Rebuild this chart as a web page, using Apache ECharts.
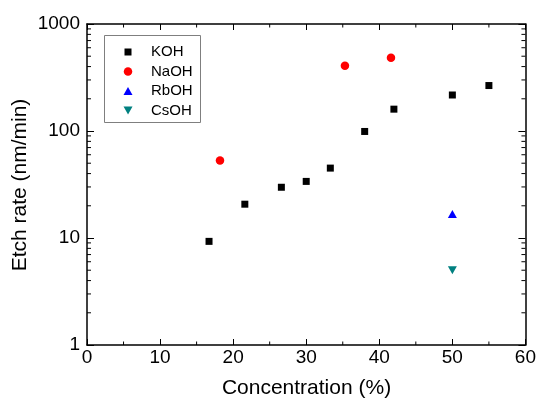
<!DOCTYPE html>
<html>
<head>
<meta charset="utf-8">
<script src="https://cdn.jsdelivr.net/npm/echarts@6/dist/echarts.min.js"></script>
<style>html,body{margin:0;padding:0;background:#fff}#c{width:539px;height:399px}</style>
</head>
<body>
<div id="c"></div>
<script>
// ---- data ----
const kohX = [16.7, 21.6, 26.6, 30.0, 33.3, 38.0, 42.0, 50.0, 55.0];
const kohY = [9.3, 20.7, 29.8, 33.8, 45, 99, 160, 217, 266];
const naohX = [18.2, 35.3, 41.6];
const naohY = [53, 408, 484];
const rbohX = [50.0];
const rbohY = [16.8];
const csohX = [50.0];
const csohY = [5.0];
const seriesNames = ['KOH', 'NaOH', 'RbOH', 'CsOH'];
const yTicks = [1, 10, 100, 1000];
const yMinorTicks = [2, 3, 4, 5, 6, 7, 8, 9, 20, 30, 40, 50, 60, 70, 80, 90, 200, 300, 400, 500, 600, 700, 800, 900];
const xMinorTicks = [5, 15, 25, 35, 45, 55];
const X_MIN = 0, X_MAX = 60, Y_MIN = 1, Y_MAX = 1000;
const xTitle = 'Concentration (%)';
const yTitle = 'Etch rate (nm/min)';

const pairs = (xs, ys) => xs.map((x, i) => [x, ys[i]]);
const FONT = '"Liberation Sans", Arial, sans-serif';
const COLORS = {KOH: '#000000', NaOH: '#ff0000', RbOH: '#0000ff', CsOH: '#008080'};

// legend drawn as graphic (box, symbol, label)
const legRowY = [17, 36.5, 56, 75.5];
const legendSymbols = [
  {type: 'rect', shape: {x: 20.5, y: legRowY[0] - 3.5, width: 7, height: 7}, style: {fill: COLORS.KOH}},
  {type: 'circle', shape: {cx: 24, cy: legRowY[1], r: 4.25}, style: {fill: COLORS.NaOH}},
  {type: 'polygon', shape: {points: [[19.5, legRowY[2] + 4], [28.5, legRowY[2] + 4], [24, legRowY[2] - 4]]}, style: {fill: COLORS.RbOH}},
  {type: 'polygon', shape: {points: [[19.5, legRowY[3] - 4], [28.5, legRowY[3] - 4], [24, legRowY[3] + 4]]}, style: {fill: COLORS.CsOH}}
];
const legendTexts = seriesNames.map((n, i) => ({
  type: 'text', x: 47, y: legRowY[i],
  style: {text: n, font: '15px ' + FONT, fill: '#000', verticalAlign: 'middle', align: 'left'}
}));

const chart = echarts.init(document.getElementById('c'));
const mkLine = () => ({show: true, onZero: false, lineStyle: {color: '#000', width: 1.5}});
const mkTick = (len) => ({show: true, inside: true, length: len, lineStyle: {color: '#000', width: 1}});
const tickLine = (x1, y1, x2, y2) => ({type: 'line', shape: {x1, y1, x2, y2}, style: {stroke: '#000', lineWidth: 1}});
const option = {
  animation: false,
  grid: {left: 87, right: 13, top: 24, bottom: 54},
  graphic: [
    {type: 'text', x: 306.5, y: 388, silent: true,
     style: {text: xTitle, font: '21px ' + FONT, fill: '#000', align: 'center', verticalAlign: 'middle'}},
    {type: 'text', x: 20, y: 185, rotation: Math.PI / 2, silent: true,
     style: {text: yTitle, font: '21px ' + FONT, fill: '#000', align: 'center', verticalAlign: 'middle'}},
    {type: 'group', x: 104, y: 35, silent: true, z: 100, children: [
      {type: 'rect', shape: {x: 0.5, y: 0.5, width: 96, height: 87},
       style: {fill: '#fff', stroke: '#7f7f7f', lineWidth: 1}},
      ...legendSymbols,
      ...legendTexts
    ]}
  ],
  xAxis: [{
    type: 'value', min: X_MIN, max: X_MAX, interval: 10, position: 'bottom',
    axisLine: mkLine(), axisTick: mkTick(6),
    splitLine: {show: false},
    axisLabel: {fontFamily: FONT, fontSize: 19, color: '#000', margin: 3}
  }, {
    type: 'value', min: X_MIN, max: X_MAX, interval: 10, position: 'top',
    axisLine: mkLine(), axisTick: mkTick(6),
    splitLine: {show: false}, axisLabel: {show: false}
  }],
  yAxis: [{
    type: 'log', logBase: 10, min: Y_MIN, max: Y_MAX, position: 'left',
    axisLine: mkLine(), axisTick: mkTick(7), splitLine: {show: false},
    axisLabel: {fontFamily: FONT, fontSize: 19, color: '#000', margin: 7,
      formatter: v => String(yTicks.find(t => Math.abs(t - v) < 1e-6 * t) ?? Math.round(v))}
  }, {
    type: 'log', logBase: 10, min: Y_MIN, max: Y_MAX, position: 'right',
    axisLine: mkLine(), axisTick: mkTick(7), splitLine: {show: false}, axisLabel: {show: false}
  }],
  series: [
    {name: 'KOH', type: 'scatter', symbol: 'rect', symbolSize: 7,
     itemStyle: {color: COLORS.KOH, opacity: 1}, data: pairs(kohX, kohY)},
    {name: 'NaOH', type: 'scatter', symbol: 'circle', symbolSize: 8.5,
     itemStyle: {color: COLORS.NaOH, opacity: 1}, data: pairs(naohX, naohY)},
    {name: 'RbOH', type: 'scatter', symbol: 'triangle', symbolSize: [9, 8],
     itemStyle: {color: COLORS.RbOH, opacity: 1}, data: pairs(rbohX, rbohY)},
    {name: 'CsOH', type: 'scatter', symbol: 'path://M0,0 L10,0 L5,9 Z', symbolSize: [9, 8],
     itemStyle: {color: COLORS.CsOH, opacity: 1}, data: pairs(csohX, csohY)},
    {name: 'minorY', type: 'custom', silent: true, clip: false, z: 5,
     data: yMinorTicks.map(v => [X_MIN, v]),
     renderItem: (params, api) => {
       const v = api.value(1);
       const l = api.coord([X_MIN, v]);
       const r = api.coord([X_MAX, v]);
       return {type: 'group', children: [tickLine(l[0], l[1], l[0] + 4, l[1]), tickLine(r[0], r[1], r[0] - 4, r[1])]};
     }},
    {name: 'minorX', type: 'custom', silent: true, clip: false, z: 5,
     data: xMinorTicks.map(v => [v, Y_MIN]),
     renderItem: (params, api) => {
       const v = api.value(0);
       const b = api.coord([v, Y_MIN]);
       const t = api.coord([v, Y_MAX]);
       return {type: 'group', children: [tickLine(b[0], b[1], b[0], b[1] - 3.5), tickLine(t[0], t[1], t[0], t[1] + 3.5)]};
     }}
  ]
};
chart.setOption(option);
</script>
</body>
</html>
